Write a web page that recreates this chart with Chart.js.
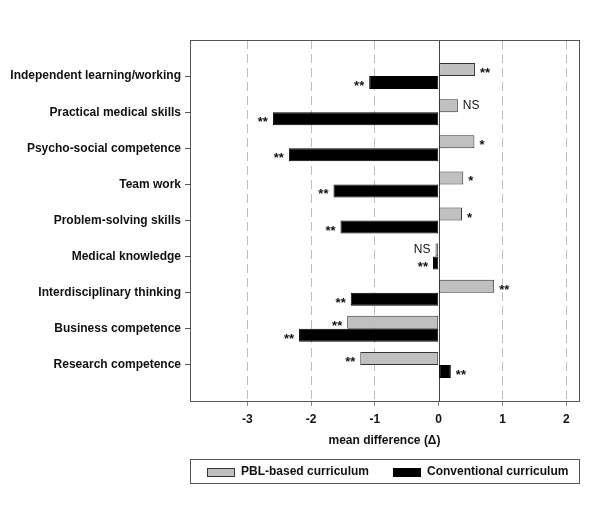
<!DOCTYPE html>
<html>
<head>
<meta charset="utf-8">
<script src="https://cdn.jsdelivr.net/npm/chart.js@4.4.0/dist/chart.umd.min.js"></script>
<style>
  html, body { margin: 0; padding: 0; background: #fff; }
  #wrap { width: 600px; height: 520px; }
</style>
</head>
<body>
<div id="wrap"><canvas id="canvas" width="600" height="520"></canvas></div>
<script>
var categories = [
  'Independent learning/working',
  'Practical medical skills',
  'Psycho-social competence',
  'Team work',
  'Problem-solving skills',
  'Medical knowledge',
  'Interdisciplinary thinking',
  'Business competence',
  'Research competence'
];
var pblValues = [0.57, 0.30, 0.56, 0.385, 0.365, -0.05, 0.87, -1.435, -1.23];
var convValues = [-1.09, -2.60, -2.35, -1.65, -1.54, -0.09, -1.38, -2.19, 0.19];
var pblSig = ['**', 'NS', '*', '*', '*', 'NS', '**', '**', '**'];
var convSig = ['**', '**', '**', '**', '**', '**', '**', '**', '**'];
var xTicks = [-3, -2, -1, 0, 1, 2];

var FONT = '"Liberation Sans", Arial, sans-serif';

// empty slot above and below the categories, like the original figure
var yLabels = [''].concat(categories, ['']);
var pblData = [null].concat(pblValues, [null]);
var convData = [null].concat(convValues, [null]);
var sigs = [[''].concat(pblSig, ['']), [''].concat(convSig, [''])];

// significance marks next to the end of each bar
var sigPlugin = {
  id: 'sigLabels',
  afterDatasetsDraw: function(chart) {
    var ctx = chart.ctx;
    ctx.save();
    ctx.fillStyle = '#111';
    ctx.textBaseline = 'middle';
    chart.data.datasets.forEach(function(ds, di) {
      var meta = chart.getDatasetMeta(di);
      meta.data.forEach(function(bar, i) {
        var txt = sigs[di][i];
        var v = ds.data[i];
        if (!txt || v === null) return;
        var isNS = txt === 'NS';
        ctx.font = isNS ? '12px ' + FONT : 'bold 13px ' + FONT;
        var y = bar.y + (isNS ? 0 : 4);
        if (v >= 0) {
          ctx.textAlign = 'left';
          ctx.fillText(txt, bar.x + 5, y);
        } else {
          ctx.textAlign = 'right';
          ctx.fillText(txt, bar.x - 5, y);
        }
      });
    });
    ctx.restore();
  }
};

// frame, zero line and legend box
var framePlugin = {
  id: 'frame',
  beforeDatasetsDraw: function(chart) {
    var ctx = chart.ctx;
    var a = chart.chartArea;
    var x0 = chart.scales.x.getPixelForValue(0);
    ctx.save();
    ctx.strokeStyle = '#444';
    ctx.lineWidth = 1;
    ctx.beginPath();
    ctx.moveTo(Math.round(x0) + 0.5, a.top);
    ctx.lineTo(Math.round(x0) + 0.5, a.bottom);
    ctx.stroke();
    ctx.restore();
  },
  afterDraw: function(chart) {
    var ctx = chart.ctx;
    var a = chart.chartArea;
    ctx.save();
    ctx.strokeStyle = '#555';
    ctx.lineWidth = 1;
    ctx.strokeRect(a.left + 0.5, a.top + 0.5, a.right - a.left, a.bottom - a.top);

    // legend
    var top = a.bottom + 58;
    ctx.strokeRect(a.left + 0.5, top + 0.5, a.right - a.left, 24);
    ctx.font = 'bold 12px ' + FONT;
    ctx.textBaseline = 'middle';
    ctx.textAlign = 'left';
    var x = a.left + 17;
    var cy = top + 13;
    chart.data.datasets.forEach(function(ds) {
      ctx.fillStyle = ds.backgroundColor;
      ctx.fillRect(x, cy - 4, 27, 8);
      ctx.strokeStyle = ds.borderColor;
      ctx.strokeRect(x + 0.5, cy - 4 + 0.5, 27, 8);
      ctx.fillStyle = '#111';
      ctx.fillText(ds.label, x + 34, cy);
      x += 34 + ctx.measureText(ds.label).width + 24;
    });
    ctx.restore();
  }
};

new Chart(document.getElementById('canvas'), {
  type: 'bar',
  data: {
    labels: yLabels,
    datasets: [{
      label: 'PBL-based curriculum',
      data: pblData,
      backgroundColor: '#c0c0c0',
      borderColor: '#333',
      borderWidth: 1,
      borderSkipped: false,
      categoryPercentage: 0.72,
      barPercentage: 1.0
    }, {
      label: 'Conventional curriculum',
      data: convData,
      backgroundColor: '#000',
      borderColor: '#000',
      borderWidth: 1,
      borderSkipped: false,
      categoryPercentage: 0.72,
      barPercentage: 1.0
    }]
  },
  options: {
    indexAxis: 'y',
    responsive: false,
    animation: false,
    layout: { padding: { top: 40, right: 21, left: 0, bottom: 0 } },
    plugins: {
      legend: { display: false },
      tooltip: { enabled: false }
    },
    scales: {
      x: {
        min: -3.9,
        max: 2.2,
        afterFit: function(scale) { scale.height = 119; },
        afterBuildTicks: function(scale) {
          scale.ticks = xTicks.map(function(v) { return { value: v }; });
        },
        ticks: {
          includeBounds: false,
          padding: 6,
          color: '#111',
          font: { family: FONT, size: 12, weight: 'bold' }
        },
        grid: {
          color: function(c) { return c.tick && c.tick.value === 0 ? 'rgba(0,0,0,0)' : '#bdbdbd'; },
          tickColor: '#888',
          tickLength: 5
        },
        border: { display: true, color: '#555', dash: [9, 5] },
        title: {
          display: true,
          text: 'mean difference (\u0394)',
          color: '#111',
          font: { family: FONT, size: 12, weight: 'bold' },
          padding: { top: 4, bottom: 72 }
        }
      },
      y: {
        offset: false,
        afterFit: function(scale) { scale.width = 190; },
        ticks: {
          padding: 4,
          color: '#111',
          font: { family: FONT, size: 12, weight: 'bold' }
        },
        grid: {
          offset: false,
          drawOnChartArea: false,
          tickLength: 5,
          tickColor: function(c) {
            return c.index === 0 || c.index === yLabels.length - 1 ? 'rgba(0,0,0,0)' : '#555';
          }
        },
        border: { display: true, color: '#555' }
      }
    }
  },
  plugins: [sigPlugin, framePlugin]
});
</script>
</body>
</html>
